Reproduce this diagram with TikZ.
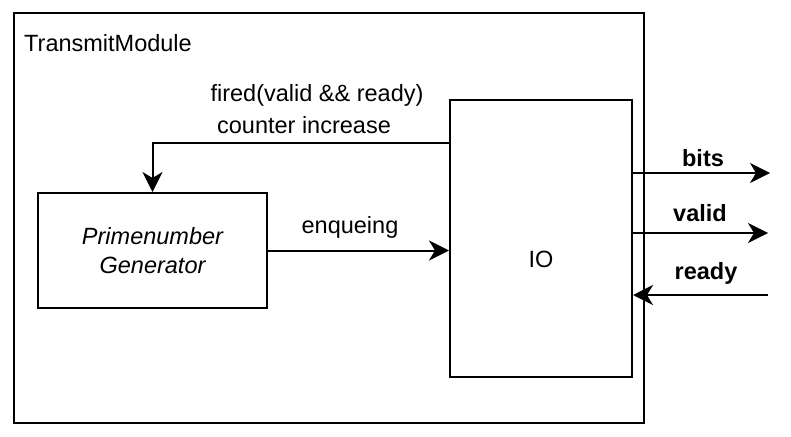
\documentclass[tikz,border=0pt]{standalone}
\usepackage{fontspec}
\setmainfont{Liberation Sans}
\usetikzlibrary{arrows.meta}
\usetikzlibrary{calc}

\tikzset{
  box/.style={draw, line width=2pt, inner sep=0pt},
  arr/.style={line width=2pt, -{Stealth[length=20pt,width=20pt,inset=6pt]}},
  lbl/.style={font=\fontsize{23.5}{29}\selectfont, inner sep=0pt}
}

\begin{document}
\begin{tikzpicture}[x=1pt,y=-1pt]
            \useasboundingbox (0,0) rectangle (791,436);

            % boxes
            \node[box, minimum width=630, minimum height=410] (module) at (329,218) {};
            \node[lbl, anchor=west] (title) at (24,43) {TransmitModule};

            \node[box, minimum width=182, minimum height=277] (io) at (541,238.5) {};
            \node[lbl] (iolabel) at (541,259) {IO};

            \node[box, minimum width=229, minimum height=115, lbl, align=center, font=\fontsize{23.5}{29}\selectfont\itshape] (prime) at (152.5,250.5) {Primenumber\\Generator};

            % feedback and enqueue
            \draw[arr] (io.west |- 0,143) -| (prime.north);
            \node[lbl] (fired) at (317,95) {fired(valid \&\& ready)};
            \node[lbl] (counter) at (304,125) {counter increase};

            \draw[arr] (prime.east) -- (prime.east -| io.west);
            \node[lbl] (enq) at (350,227) {enqueing};

            % handshake ports
            \coordinate (bitsend) at (770,173);
            \coordinate (validend) at (768,233);
            \coordinate (readyend) at (768,295);

            \draw[arr] (io.east |- bitsend) -- (bitsend);
            \node[lbl, font=\fontsize{23.5}{29}\selectfont\bfseries] (bits) at (703,158) {bits};

            \draw[arr] (io.east |- validend) -- (validend);
            \node[lbl, font=\fontsize{23.5}{29}\selectfont\bfseries] (valid) at (700,213) {valid};

            \draw[arr] (readyend) -- (io.east |- readyend);
            \node[lbl, font=\fontsize{23.5}{29}\selectfont\bfseries] (ready) at (706,273) {ready};
        \end{tikzpicture}
\end{document}
